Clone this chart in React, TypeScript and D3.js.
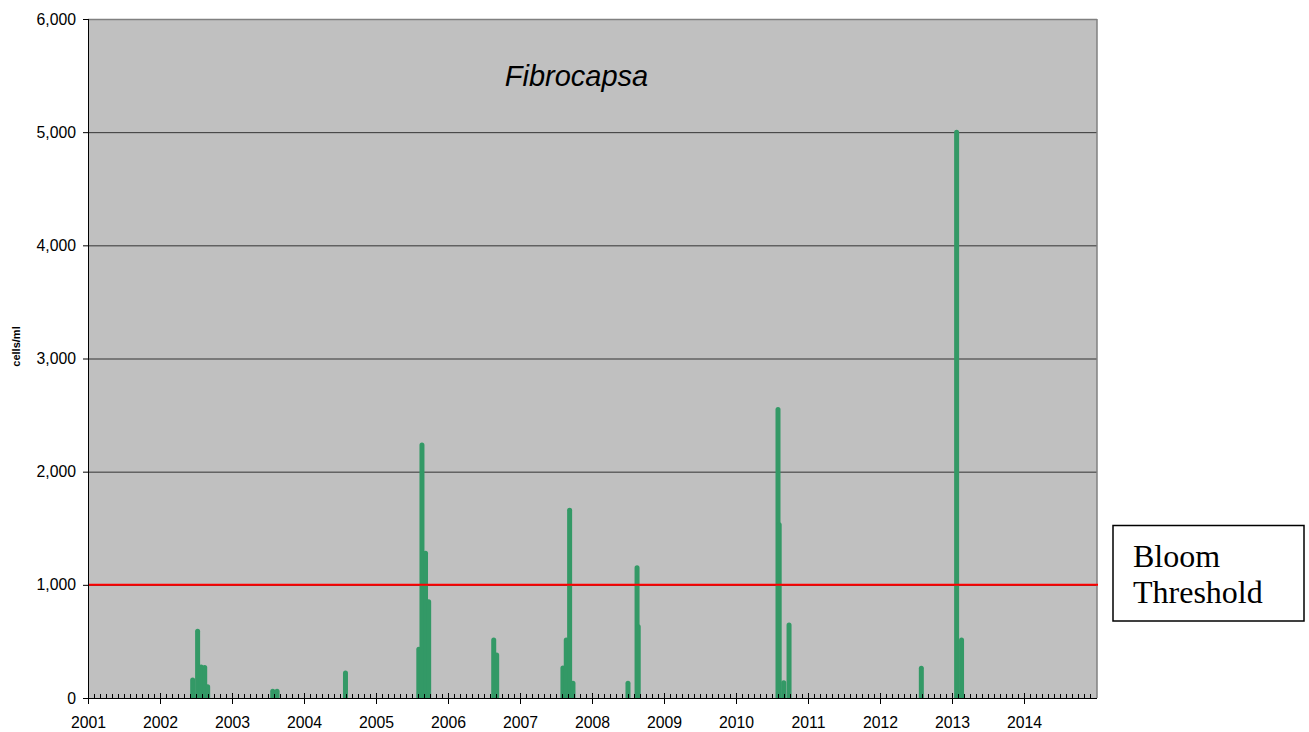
import React from "react";
import * as d3 from "d3";

// ---- data ----
const chartTitle = "Fibrocapsa";
const yAxisLabel = "cells/ml";
const legendLines = ["Bloom", "Threshold"];
const bloomThreshold = 1000;
const yTicks = [0, 1000, 2000, 3000, 4000, 5000, 6000];
const yearTicks = [2001, 2002, 2003, 2004, 2005, 2006, 2007, 2008, 2009, 2010, 2011, 2012, 2013, 2014];

// sampling dates with non-zero Fibrocapsa counts
const sampleDates = [
  "2002-06-16", "2002-07-11", "2002-07-29", "2002-08-16", "2002-08-31",
  "2003-07-27", "2003-08-18",
  "2004-07-30",
  "2005-08-06", "2005-08-22", "2005-09-09", "2005-09-25",
  "2006-08-21", "2006-09-05",
  "2007-08-07", "2007-08-24", "2007-09-10", "2007-09-27",
  "2008-07-02", "2008-08-17", "2008-08-23",
  "2010-08-02", "2010-08-08", "2010-08-31", "2010-09-27",
  "2012-07-29",
  "2013-01-24", "2013-02-18",
];
const cellsPerMl = [
  160, 590, 275, 270, 100,
  60, 60,
  220,
  430, 2235, 1280, 850,
  512, 380,
  265, 512, 1660, 130,
  130, 1150, 630,
  2550, 1530, 135, 645,
  262,
  5000, 512,
];

const W = 1309, H = 732;
const left = 88, right = 1096, top = 19, bottom = 698;

export default function App() {
  const parse = d3.timeParse("%Y-%m-%d");
  const x = d3.scaleTime().domain([new Date(2001, 0, 1), new Date(2015, 0, 1)]).range([left, right]);
  const y = d3.scaleLinear().domain([0, 6000]).range([bottom, top]);
  const pts = sampleDates.map((d, i) => ({ date: parse(d) as Date, v: cellsPerMl[i] }));
  const months = d3.timeMonth.range(new Date(2001, 0, 1), new Date(2015, 0, 1));
  const font = "'Liberation Sans', Arial, sans-serif";

  return (
    <svg width={W} height={H} style={{ position: "fixed", left: 0, top: 0, background: "#fff" }}>
      <defs>
        <clipPath id="plotClip">
          <rect x={left} y={0} width={right + 1 - left} height={bottom} />
        </clipPath>
      </defs>
      <rect x={left} y={top} width={right + 1 - left} height={bottom - top} fill="#c0c0c0" />
      {/* grid */}
      {yTicks.filter((t) => t > 0 && t < 6000).map((t) => (
        <line key={t} x1={left} x2={right + 1} y1={y(t) + 0.5} y2={y(t) + 0.5} stroke="#333" strokeWidth={1} />
      ))}
      {/* border top/right */}
      <line x1={left} x2={right + 1} y1={top + 0.5} y2={top + 0.5} stroke="#808080" strokeWidth={1.5} />
      <line x1={right + 1} x2={right + 1} y1={top} y2={bottom} stroke="#808080" strokeWidth={1.5} />
      {/* data */}
      <g clipPath="url(#plotClip)">
        {pts.map((p, i) => (
          <line key={i} x1={x(p.date)} x2={x(p.date)} y1={y(0) + 4} y2={y(p.v)}
            stroke="#339966" strokeWidth={5} strokeLinecap="round" />
        ))}
      </g>
      {/* threshold */}
      <line x1={left} x2={right + 2} y1={y(bloomThreshold)} y2={y(bloomThreshold)} stroke="#ff0000" strokeWidth={2} />
      {/* axes */}
      <line x1={left + 0.5} x2={left + 0.5} y1={top} y2={bottom} stroke="#000" strokeWidth={1} />
      <line x1={left} x2={right + 1} y1={bottom + 0.5} y2={bottom + 0.5} stroke="#000" strokeWidth={1.2} />
      {yTicks.map((t) => (
        <g key={t}>
          <line x1={left - 5} x2={left} y1={y(t) + 0.5} y2={y(t) + 0.5} stroke="#000" />
          <text x={76} y={y(t)} dy="0.35em" textAnchor="end" fontFamily={font} fontSize={15.8} fill="#000">
            {d3.format(",")(t)}
          </text>
        </g>
      ))}
      {months.map((m, i) => (
        <line key={i} x1={Math.round(x(m)) + 0.5} x2={Math.round(x(m)) + 0.5} y1={694} y2={698} stroke="#000" />
      ))}
      {yearTicks.map((yr) => {
        const xx = Math.round(x(new Date(yr, 0, 1))) + 0.5;
        return (
          <g key={yr}>
            <line x1={xx} x2={xx} y1={693} y2={704} stroke="#000" />
            <text x={xx} y={728} textAnchor="middle" fontFamily={font} fontSize={15.8} fill="#000">{yr}</text>
          </g>
        );
      })}
      <text transform="translate(19.5,346.5) rotate(-90)" textAnchor="middle" fontFamily={font} fontWeight="bold" fontSize={11}>
        {yAxisLabel}
      </text>
      <text x={576.5} y={86} textAnchor="middle" fontFamily={font} fontStyle="italic" fontSize={29}>
        {chartTitle}
      </text>
      {/* legend */}
      <rect x={1113} y={525.5} width={191} height={95.5} fill="#fff" stroke="#000" strokeWidth={1.5} />
      {legendLines.map((t, i) => (
        <text key={t} x={1133} y={567 + i * 36} fontFamily="'Liberation Serif', 'Times New Roman', serif" fontSize={32} fill="#000">
          {t}
        </text>
      ))}
    </svg>
  );
}
